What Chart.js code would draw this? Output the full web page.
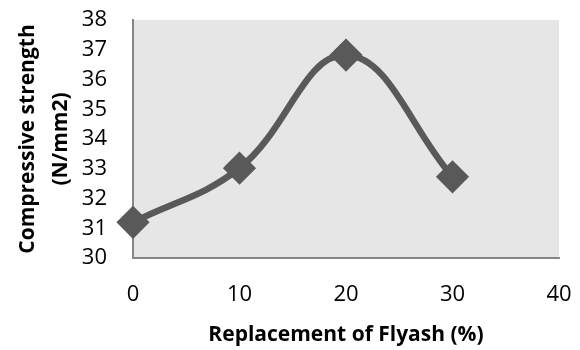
<!DOCTYPE html>
<html>
<head>
<meta charset="utf-8">
<script src="https://cdn.jsdelivr.net/npm/chart.js"></script>
<style>
  html, body { margin: 0; padding: 0; background: #ffffff; }
  #wrap { width: 580px; height: 350px; }
</style>
</head>
<body>
<div id="wrap"><canvas id="chart" width="580" height="350"></canvas></div>
<script>
// flyash replacement (%) and compressive strength (N/mm2)
const replacement = [0, 10, 20, 30];
const strength = [31.2, 33.02, 36.82, 32.73];
const xTitle = 'Replacement of Flyash (%)';
const yTitle = ['Compressive strength', '(N/mm2)'];

const FONT = "'Open Sans', 'Liberation Sans', sans-serif";

// grey plot area like the original spreadsheet chart
const plotBackground = {
  id: 'plotBackground',
  beforeDraw(chart) {
    const { ctx, chartArea: a } = chart;
    ctx.save();
    ctx.fillStyle = '#e6e6e6';
    ctx.fillRect(a.left, a.top, a.right - a.left, a.bottom - a.top);
    ctx.restore();
  }
};

new Chart(document.getElementById('chart'), {
  type: 'scatter',
  data: {
    datasets: [{
      data: replacement.map((x, i) => ({ x: x, y: strength[i] })),
      showLine: true,
      tension: 0.4,
      borderColor: '#595959',
      borderWidth: 6.5,
      backgroundColor: '#595959',
      pointStyle: 'rectRot',
      pointRadius: 12,
      pointHoverRadius: 12,
      clip: false
    }]
  },
  options: {
    responsive: false,
    animation: false,
    layout: { padding: { left: 10, right: 21, top: 20, bottom: 2 } },
    plugins: {
      legend: { display: false },
      tooltip: { enabled: false }
    },
    scales: {
      x: {
        type: 'linear',
        min: 0,
        max: 40,
        afterFit: (scale) => { scale.height = 90; scale.paddingLeft = 0; scale.paddingRight = 0; },
        grid: { display: false, drawTicks: false },
        border: { display: true, color: '#868686', width: 2 },
        ticks: { stepSize: 10, autoSkip: false, maxRotation: 0, color: '#000', padding: 24, font: { family: FONT, size: 22 } },
        title: { display: true, text: xTitle, color: '#000', padding: { top: 8, bottom: 0 }, font: { family: FONT, size: 21, weight: 'bold' } }
      },
      y: {
        min: 30,
        max: 38,
        afterFit: (scale) => { scale.width = 123; scale.paddingTop = 0; scale.paddingBottom = 0; },
        grid: { display: false, drawTicks: false },
        border: { display: true, color: '#868686', width: 2 },
        ticks: { stepSize: 1, autoSkip: false, color: '#000', padding: 26, font: { family: FONT, size: 22 } },
        title: { display: true, text: yTitle, color: '#000', padding: { top: 2, bottom: 3 }, font: { family: FONT, size: 21, weight: 'bold', lineHeight: 1.55 } }
      }
    }
  },
  plugins: [plotBackground]
});
</script>
</body>
</html>
